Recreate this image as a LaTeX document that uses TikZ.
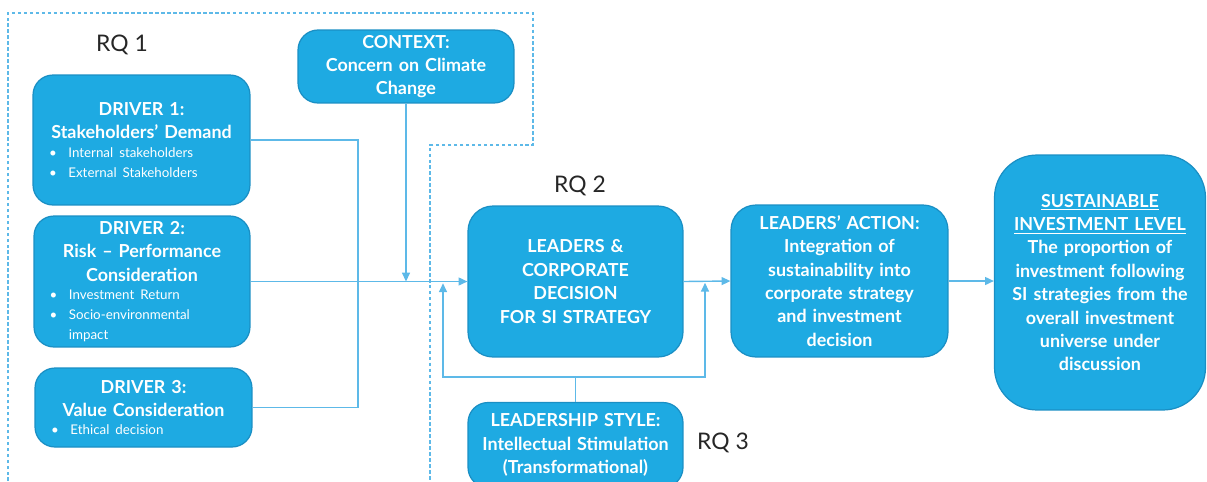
\documentclass[tikz,border=0pt]{standalone}
\usepackage{fontspec}
\setmainfont{Lato}
\usetikzlibrary{positioning}
\usetikzlibrary{arrows.meta}
\definecolor{boxblue}{HTML}{1EAAE2}
\definecolor{edgeblue}{HTML}{1A8FC4}
\definecolor{lineblue}{HTML}{5DB9E8}
\definecolor{rqgray}{HTML}{262626}

% smaller type for the bullet lists
\newcommand{\listsize}{\mdseries\fontsize{7.6}{11.4}\selectfont}
% bullet line inside a box, left aligned with a hanging indent
\newcommand{\bpoint}[1]{\par{\leftskip=0pt\rightskip=0pt plus 1fil\parfillskip=0pt plus 1fil%
	\hangindent=1.45em\hangafter=1\noindent\makebox[1.45em][l]{\textbullet}#1\par}}

\begin{document}
\begin{tikzpicture}[
		x=0.02cm, y=-0.02cm,
		box/.style = {rectangle, draw=edgeblue, line width=0.7pt, fill=boxblue, rounded corners=0.4cm,
			text=white, font=\bfseries\fontsize{10.2}{13.3}\selectfont, align=center, inner sep=0pt},
		link/.style = {draw=lineblue, line width=0.8pt},
		arr/.style = {link, -{Triangle[length=5pt, width=4.5pt]}},
		rq/.style = {text=rqgray, font=\fontsize{13}{15}\selectfont},
		]

		\useasboundingbox (0,0) rectangle (1207,481);

		% research question frame
		\draw[lineblue, line width=0.8pt, dash pattern=on 2pt off 1.4pt]
			(8,481) -- (8,13) -- (533,13) -- (533,145) -- (430,145) -- (430,481);

		% drivers
		\node[box, minimum width=4.34cm, minimum height=2.6cm, text width=3.7cm]
					(d1)	at	(141.5,140)	{DRIVER 1:\\ Stakeholders' Demand\\[-1pt]
						{\listsize\bpoint{Internal stakeholders}\bpoint{External Stakeholders}}};
		\node[box, minimum width=4.32cm, minimum height=2.62cm, text width=3.7cm]
					(d2)	at	(142,281.5)	{DRIVER 2:\\ Risk -- Performance\\ Consideration\\[-1pt]
						{\listsize\bpoint{Investment Return}\bpoint{Socio-environmental impact}}};
		\node[box, minimum width=4.34cm, minimum height=1.58cm, text width=3.7cm]
					(d3)	at	(143.5,407.5)	{DRIVER 3:\\ Value Consideration\\[-1pt]
						{\listsize\bpoint{Ethical decision}}};

		\node[box, minimum width=4.32cm, minimum height=1.46cm, text width=4.1cm]
					(ctx)	at	(406,66.5)	{CONTEXT:\\ Concern on Climate\\ Change};
		\node[box, minimum width=4.3cm, minimum height=3.02cm, rounded corners=0.5cm, text width=4cm]
					(lead)	at	(575.5,281.5)	{LEADERS \&\\ CORPORATE\\ DECISION\\ FOR SI STRATEGY};
		\node[box, minimum width=4.34cm, minimum height=3.04cm, rounded corners=0.5cm, text width=4.1cm]
					(act)	at	(839.5,281)	{LEADERS' ACTION:\\ Integration of\\ sustainability into\\ corporate strategy\\ and investment\\ decision};
		\node[box, minimum width=4.22cm, minimum height=5.1cm, rounded corners=0.85cm, text width=4.1cm]
					(sust)	at	(1100,282.5)	{\underline{SUSTAINABLE}\\ \underline{INVESTMENT LEVEL}\\ The proportion of\\ investment following\\ SI strategies from the\\ overall investment\\ universe under\\ discussion};
		\node[box, minimum width=4.3cm, minimum height=1.7cm, text width=4.2cm]
					(style)	at	(575.5,445)	{LEADERSHIP STYLE:\\ Intellectual Stimulation\\ (Transformational)};

		\node[rq]	(rq1)	at	(122,45)	{RQ 1};
		\node[rq]	(rq2)	at	(580,186)	{RQ 2};
		\node[rq]	(rq3)	at	(723,443)	{RQ 3};

		% connectors
		\coordinate (bus)	at	(358,0);
		\coordinate (fbl)	at	(443,377);
		\coordinate (fbr)	at	(705,377);

		\draw[link]	(d1.east)	-|	(bus |- d3.east)	--	(d3.east);
		\draw[arr]	(d2.east)	--	(lead.west);
		\draw[arr]	(ctx.south)	--	(ctx.south |- d2.east);
		\draw[link]	(style.north)	--	(style.north |- fbl)	coordinate (fbm);
		\draw[arr, shorten >=1pt]	(fbm)	--	(fbl)	--	(fbl |- lead.west);
		\draw[arr, shorten >=1pt]	(fbm)	--	(fbr)	--	(fbr |- act.west);
		\draw[arr]	(lead.east)	--	(act.west);
		\draw[arr]	(act.east)	--	(sust.west |- act.east);
	\end{tikzpicture}
\end{document}
